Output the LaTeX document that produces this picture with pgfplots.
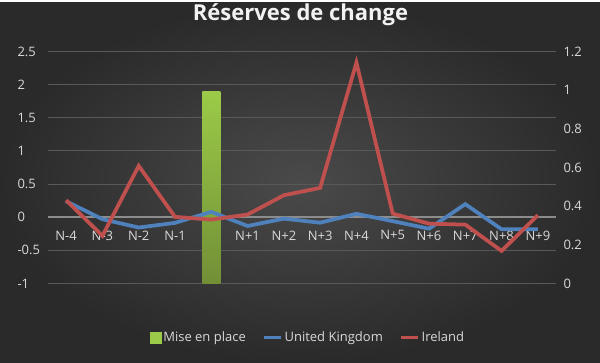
\documentclass[border=0pt]{standalone}
\usepackage{pgfplots}
\pgfplotsset{compat=1.18}
\usepackage{fontspec}
\setmainfont{Open Sans}
\definecolor{bgin}{HTML}{4A4A4A}
\definecolor{bgout}{HTML}{2A2A2A}
\definecolor{gridc}{HTML}{595959}
\definecolor{zeroc}{HTML}{8C8C8C}
\definecolor{txt}{HTML}{D9D9D9}
\definecolor{ukblue}{HTML}{4F81BD}
\definecolor{iered}{HTML}{C0504D}
\definecolor{bartop}{HTML}{9BCB48}
\definecolor{barbot}{HTML}{728F36}
\begin{document}
\begin{tikzpicture}
\shade[inner color=bgin, outer color=bgout] (0,0) rectangle (600pt,360pt);
\begin{axis}[
  at={(48pt,79pt)}, anchor=south west, scale only axis,
  width=508pt, height=232pt,
  xmin=-0.5, xmax=13.5, ymin=-1, ymax=2.5,
  ytick={-1,-0.5,0,0.5,1,1.5,2,2.5},
  yticklabels={-1,-0.5,0,0.5,1,1.5,2,2.5},
  ymajorgrids, grid style={gridc, line width=0.8pt},
  axis line style={draw=none}, major tick length=0pt,
  xtick={0,...,13},
  xticklabels={N-4,N-3,N-2,N-1,,N+1,N+2,N+3,N+4,N+5,N+6,N+7,N+8,N+9},
  xticklabel style={anchor=center, yshift=48pt},
  yticklabel style={anchor=west, xshift=-34pt},
  ticklabel style={font=\fontsize{13}{15}\selectfont, text=txt},
  /pgf/number format/assume math mode=true,
  extra y ticks={0}, extra y tick labels={},
  extra y tick style={grid style={zeroc, line width=1.3pt}},
  title={Réserves de change},
  title style={at={(axis description cs:0.5,1)}, anchor=center, yshift=31pt, xshift=-1.5pt,
    font=\bfseries\fontsize{22}{26}\selectfont, text=white!95!black},
]
\addplot[draw=none, top color=bartop, bottom color=barbot]
  coordinates {(3.752,-1) (3.752,1.9) (4.248,1.9) (4.248,-1)} -- cycle;
\end{axis}
\begin{axis}[
  at={(48pt,79pt)}, anchor=south west, scale only axis,
  width=508pt, height=232pt,
  xmin=-0.5, xmax=13.5, ymin=0, ymax=1.2,
  xtick=\empty,
  ytick={0,0.2,0.4,0.6,0.8,1,1.2},
  yticklabels={0,0.2,0.4,0.6,0.8,1,1.2},
  yticklabel pos=right,
  yticklabel style={anchor=west, xshift=4pt},
  ticklabel style={font=\fontsize{13}{15}\selectfont, text=txt},
  /pgf/number format/assume math mode=true,
  axis line style={draw=none}, major tick length=0pt,
  legend columns=3,
  legend style={draw=none, fill=none, text=txt, font=\fontsize{13}{15}\selectfont,
    at={([xshift=6pt,yshift=-54pt]axis description cs:0.5,0)}, anchor=center,
    /tikz/every even column/.append style={column sep=14pt}},
]
\addlegendimage{legend image code/.code={\fill[bartop] (6pt,-5.5pt) rectangle (17pt,5.5pt);}}
\addlegendentry{Mise en place}
\addplot[ukblue, line width=3.75pt, mark=none] coordinates {
(0,0.425) (1,0.332) (2,0.289) (3,0.313) (4,0.37) (5,0.297) (6,0.335)
(7,0.314) (8,0.36) (9,0.322) (10,0.283) (11,0.41) (12,0.28) (13,0.28)};
\addlegendentry{United Kingdom}
\addplot[iered, line width=3.75pt, mark=none] coordinates {
(0,0.43) (1,0.246) (2,0.608) (3,0.344) (4,0.33) (5,0.356) (6,0.456)
(7,0.494) (8,1.142) (9,0.361) (10,0.309) (11,0.304) (12,0.168) (13,0.353)};
\addlegendentry{Ireland}
\end{axis}
\end{tikzpicture}
\end{document}
